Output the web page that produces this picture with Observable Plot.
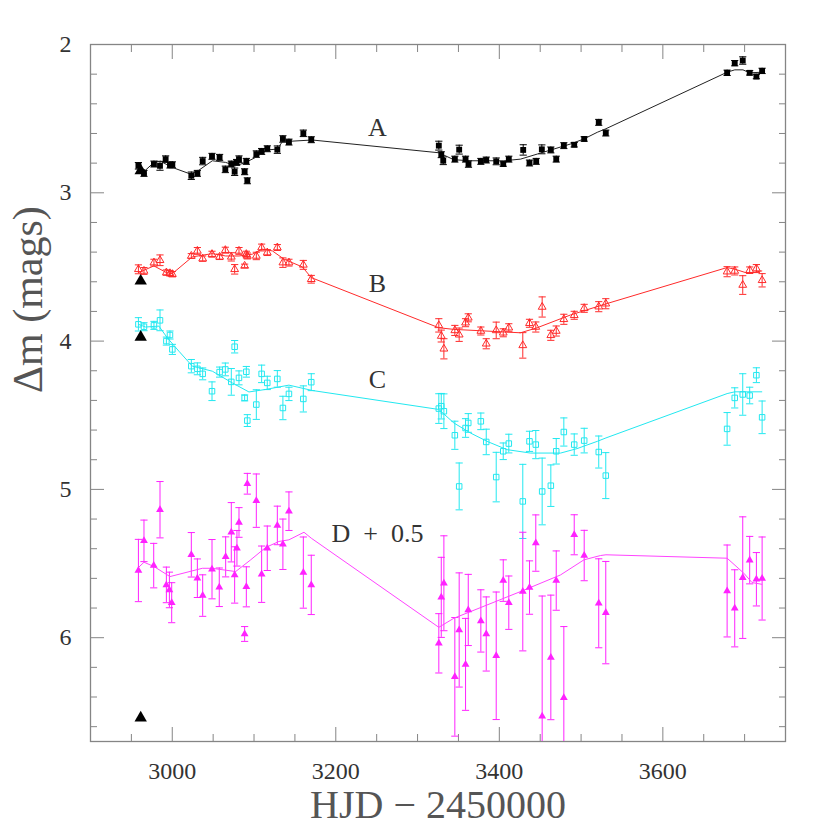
<!DOCTYPE html>
<html><head><meta charset="utf-8">
<script src="https://cdn.jsdelivr.net/npm/d3@7"></script>
<script src="https://cdn.jsdelivr.net/npm/@observablehq/plot@0.6"></script>
<style>
body{margin:0;background:#fff}
svg text{white-space:pre; font-family:'Liberation Serif','DejaVu Serif',serif !important}
</style>
</head><body><div id="chart"></div>
<script>
// ---- axis ticks ----
const xMajor = [3000, 3200, 3400, 3600];
const xMinor = [2950, 3050, 3100, 3150, 3250, 3300, 3350, 3450, 3500, 3550, 3650, 3700];
const yMajor = [2, 3, 4, 5, 6];
const yMinor = [2.2,2.4,2.6,2.8,3.2,3.4,3.6,3.8,4.2,4.4,4.6,4.8,5.2,5.4,5.6,5.8,6.2,6.4,6.6];

// ---- series A ----
const aX = [2958.6,2965.4,2977.6,2985.0,2991.9,2997.2,3000.1,3023.3,3030.7,3037.2,3048.6,3057.9,3064.9,3072.2,3076.3,3078.7,3081.6,3088.5,3090.6,3091.8,3102.8,3109.3,3116.2,3128.5,3135.3,3142.7,3160.3,3170.0,
  3326.0,3329.0,3331.4,3345.6,3350.9,3358.7,3362.3,3377.4,3384.0,3396.2,3404.8,3411.6,3429.2,3436.9,3445.1,3452.0,3463.0,3469.6,3478.9,3491.6,3503.8,3521.6,3530.2,
  3678.6,3687.9,3697.7,3706.2,3714.4,3721.4];
const aY = [2.818,2.869,2.806,2.818,2.773,2.813,2.811,2.885,2.869,2.786,2.754,2.761,2.842,2.806,2.858,2.795,2.773,2.858,2.788,2.919,2.739,2.721,2.703,2.709,2.637,2.658,2.599,2.642,
  2.682,2.743,2.784,2.773,2.709,2.773,2.806,2.788,2.779,2.788,2.806,2.773,2.711,2.799,2.788,2.707,2.711,2.773,2.682,2.676,2.637,2.525,2.597,
  2.191,2.126,2.108,2.191,2.216,2.178];
const aE = [0.022,0.02,0.02,0.03,0.022,0.02,0.02,0.025,0.02,0.025,0.02,0.02,0.022,0.02,0.025,0.02,0.022,0.02,0.02,0.02,0.022,0.02,0.02,0.025,0.022,0.02,0.022,0.02,
  0.03,0.02,0.026,0.02,0.03,0.02,0.022,0.02,0.02,0.023,0.015,0.02,0.035,0.02,0.02,0.03,0.02,0.02,0.02,0.015,0.015,0.02,0.02,
  0.018,0.018,0.025,0.015,0.015,0.018];

// ---- series B ----
const bX = [2958.6,2965.4,2977.6,2985.0,2992.8,2997.2,3000.1,3023.3,3030.7,3037.2,3048.6,3057.9,3064.9,3072.2,3076.3,3081.6,3088.5,3090.6,3091.8,3102.8,3109.3,3116.2,3128.5,3135.3,3142.7,3160.3,3170.0,
  3326.0,3329.0,3332.2,3345.6,3350.9,3358.7,3362.0,3377.4,3384.0,3396.2,3404.8,3411.6,3428.7,3436.9,3444.6,3452.4,3463.0,3469.6,3478.9,3491.6,3503.8,3521.6,3530.2,
  3678.6,3687.9,3697.7,3706.2,3714.4,3721.4];
const bY = [3.516,3.527,3.471,3.455,3.538,3.543,3.549,3.426,3.392,3.444,3.414,3.432,3.387,3.432,3.516,3.392,3.493,3.414,3.426,3.426,3.369,3.403,3.369,3.471,3.471,3.486,3.583,
  3.894,3.966,4.052,3.928,3.957,3.876,3.843,3.932,4.018,3.928,3.944,3.910,4.029,3.880,3.905,3.770,3.961,3.932,3.853,3.826,3.779,3.768,3.748,
  3.532,3.527,3.622,3.522,3.511,3.590];
const bE = [0.03,0.023,0.023,0.036,0.018,0.018,0.018,0.016,0.023,0.018,0.02,0.018,0.02,0.028,0.032,0.023,0.012,0.02,0.02,0.025,0.023,0.02,0.02,0.032,0.023,0.03,0.026,
  0.045,0.04,0.068,0.034,0.045,0.027,0.027,0.027,0.034,0.056,0.027,0.027,0.086,0.027,0.034,0.068,0.034,0.034,0.034,0.027,0.027,0.034,0.034,
  0.034,0.027,0.063,0.022,0.027,0.045];

// ---- series C ----
const cX = bX;
const cY = [3.887,3.903,3.894,3.860,4.000,3.959,4.056,4.169,4.187,4.221,4.338,4.209,4.191,4.275,4.038,4.248,4.383,4.207,4.536,4.428,4.221,4.282,4.255,4.451,4.356,4.390,4.277,
  4.455,4.439,4.473,4.635,4.980,4.586,4.552,4.541,4.680,4.917,4.743,4.691,5.081,4.676,4.698,5.014,4.975,4.743,4.613,4.698,4.671,4.748,4.907,
  4.592,4.383,4.360,4.367,4.230,4.514];
const cE = [0.045,0.027,0.027,0.07,0.027,0.027,0.034,0.045,0.04,0.04,0.063,0.034,0.043,0.09,0.042,0.047,0.02,0.036,0.04,0.1,0.059,0.045,0.056,0.079,0.045,0.088,0.057,
  0.10,0.086,0.117,0.095,0.158,0.063,0.063,0.056,0.086,0.167,0.056,0.063,0.25,0.068,0.095,0.225,0.14,0.086,0.095,0.072,0.083,0.108,0.155,
  0.11,0.068,0.14,0.056,0.05,0.11];

// ---- series D (+0.5) ----
const dX = [2958.6,2965.4,2977.3,2985.0,2992.8,2996.5,2999.3,3023.3,3030.7,3037.2,3048.6,3057.5,3065.3,3072.2,3076.3,3079.1,3081.6,3088.5,3090.6,3091.8,3102.8,3109.3,3116.2,3128.5,3135.3,3142.7,3160.3,3170.0,
  3326.0,3329.0,3332.2,3345.6,3350.9,3358.7,3362.0,3377.4,3384.0,3396.2,3404.8,3411.6,3428.7,3436.9,3444.6,3452.4,3463.0,3469.6,3478.9,3491.6,3503.8,3521.6,3530.2,
  3678.6,3687.9,3697.7,3706.2,3714.4,3721.4];
const dY = [5.547,5.347,5.514,5.137,5.644,5.678,5.764,5.441,5.599,5.716,5.538,5.660,5.455,5.289,5.577,5.397,5.223,5.975,5.657,4.962,5.076,5.572,5.397,5.243,5.370,5.147,5.561,5.644,
  6.038,5.728,5.633,6.264,5.948,6.180,5.813,5.887,5.975,6.122,5.615,5.764,5.689,5.662,5.362,6.529,6.133,5.615,6.405,5.306,5.446,5.768,5.831,
  5.685,5.802,5.595,5.477,5.606,5.601];
const dE = [0.21,0.14,0.15,0.19,0.12,0.12,0.135,0.15,0.13,0.14,0.20,0.13,0.135,0.20,0.19,0.12,0.10,0.05,0.135,0.07,0.18,0.19,0.15,0.13,0.17,0.13,0.24,0.20,
  0.20,0.27,0.32,0.40,0.385,0.31,0.24,0.21,0.25,0.43,0.14,0.18,0.40,0.18,0.19,0.81,0.42,0.20,0.48,0.135,0.17,0.30,0.345,
  0.31,0.26,0.41,0.16,0.18,0.28];

// ---- model curves ----
const lineAX = [2958.6,2967.4,2977.6,2985.8,3000.1,3022.5,3032.7,3049,3065.3,3077.5,3089.8,3102,3116.2,3128.5,3135.4,3142.7,3171.2,3326,3344.4,3364.8,3405.6,3425.9,3446.3,3466.7,3487,3503.5,3519.8,3530.4,3678.6,3688,3698,3706,3721];
const lineAY = [2.829,2.847,2.795,2.788,2.829,2.874,2.847,2.784,2.795,2.818,2.795,2.761,2.711,2.705,2.649,2.653,2.644,2.73,2.777,2.784,2.784,2.773,2.739,2.705,2.671,2.637,2.592,2.568,2.187,2.171,2.171,2.191,2.187];
const lineBX = [2958.6,2965.4,2977.6,2992.8,3000.1,3024.5,3049,3065.3,3081.6,3098,3110,3122.5,3136.8,3159.2,3170,3326,3344.4,3425.9,3446.3,3487,3530.4,3678.6,3688,3704,3721];
const lineBY = [3.538,3.522,3.493,3.538,3.545,3.432,3.410,3.426,3.426,3.414,3.380,3.392,3.448,3.500,3.572,3.91,3.921,3.944,3.91,3.824,3.749,3.504,3.515,3.543,3.527];
const lineCX = [2958.6,2967.4,2983.7,2993.8,3008.1,3024.5,3049,3073.4,3093.8,3114.2,3142.7,3171.2,3326,3344.4,3364.8,3385,3409.5,3438,3475,3495,3519.8,3530.4,3678.6,3688,3721];
const lineCY = [3.887,3.905,3.899,3.977,4.068,4.169,4.203,4.282,4.343,4.326,4.297,4.333,4.461,4.552,4.62,4.676,4.732,4.755,4.755,4.725,4.676,4.653,4.354,4.342,4.342];
const lineDX = [2958.6,2965.4,2977.6,2997.2,3036.8,3048.6,3077.5,3095.9,3114.2,3130.5,3142.7,3161.1,3170,3326,3344.4,3425.9,3474.8,3503.5,3523.7,3530.4,3678.6,3699,3709,3721];
const lineDY = [5.527,5.491,5.520,5.588,5.532,5.532,5.554,5.475,5.392,5.351,5.340,5.289,5.329,5.93,5.869,5.689,5.577,5.475,5.446,5.441,5.464,5.565,5.628,5.640];

// ---- reference markers & labels ----
const refX = [2961.4, 2961.4, 2961.4, 2961.4];
const refY = [2.851, 3.595, 3.973, 6.541];
const labelText = ["A", "B", "C", "D  +  0.5"];
const labelX = [3251, 3251, 3251, 3251];
const labelY = [2.56, 3.615, 4.257, 5.30];

const font = "'Liberation Serif', 'DejaVu Serif', serif";
const frameGray = "#858585";

const cap = {draw(ctx, size) { const w = Math.sqrt(size / Math.PI); ctx.moveTo(-w, 0); ctx.lineTo(w, 0); }};

function rows(xs, ys, es) { return xs.map((x, i) => ({x, y: ys[i], e: es ? es[i] : 0})); }

const series = [
  {data: rows(aX, aY, aE), line: rows(lineAX, lineAY), color: "#000000", lineColor: "#222", symbol: "square", filled: true, r: 3.3},
  {data: rows(bX, bY, bE), line: rows(lineBX, lineBY), color: "#ff2a2a", lineColor: "#ff2a2a", symbol: "triangle", filled: false, r: 2.9},
  {data: rows(cX, cY, cE), line: rows(lineCX, lineCY), color: "#22e8f0", lineColor: "#22e8f0", symbol: "square", filled: false, r: 3.1},
  {data: rows(dX, dY, dE), line: rows(lineDX, lineDY), color: "#ff22ff", lineColor: "#ff44ff", symbol: "triangle", filled: true, r: 2.9}
];

const marks = [];
for (const s of series) {
  marks.push(Plot.ruleX(s.data, {x: "x", y1: d => d.y - d.e, y2: d => d.y + d.e, stroke: s.color, strokeWidth: 1, clip: true}));
  marks.push(Plot.dot(s.data, {x: "x", y: d => d.y - d.e, symbol: cap, r: 3.6, stroke: s.color, fill: "none", strokeWidth: 1, clip: true}));
  marks.push(Plot.dot(s.data, {x: "x", y: d => d.y + d.e, symbol: cap, r: 3.6, stroke: s.color, fill: "none", strokeWidth: 1, clip: true}));
}
for (const s of series) {
  marks.push(Plot.line(s.line, {x: "x", y: "y", stroke: s.lineColor, strokeWidth: 1}));
}
for (const s of series) {
  marks.push(Plot.dot(s.data, s.filled
    ? {x: "x", y: "y", symbol: s.symbol, r: s.r, fill: s.color, stroke: "none"}
    : {x: "x", y: "y", symbol: s.symbol, r: s.r, fill: "none", stroke: s.color, strokeWidth: 1}));
}
marks.push(Plot.dot(rows(refX, refY), {x: "x", y: "y", symbol: "triangle", r: 4.6, fill: "#000", stroke: "none"}));
marks.push(Plot.text(labelText, {x: (d, i) => labelX[i], y: (d, i) => labelY[i], text: d => d, fontSize: 26, fill: "#333", fontFamily: font}));

const chart = Plot.plot({
  width: 830, height: 830,
  marginLeft: 90, marginRight: 45, marginTop: 44, marginBottom: 89,
  style: {fontFamily: font, background: "#fff", color: "#333"},
  x: {domain: [2900, 3750]},
  y: {domain: [2, 6.7], reverse: true},
  marks: [
    Plot.axisX({anchor: "bottom", ticks: xMajor, tickSize: -14, tickPadding: 34, tickFormat: d => String(d), fontSize: 24, fontFamily: font, fill: "#333", stroke: frameGray, label: null}),
    Plot.axisX({anchor: "bottom", ticks: xMinor, tickSize: -7, fill: "none", stroke: frameGray, label: null}),
    Plot.axisX({anchor: "top", ticks: xMajor, tickSize: -14, fill: "none", stroke: frameGray, label: null}),
    Plot.axisX({anchor: "top", ticks: xMinor, tickSize: -7, fill: "none", stroke: frameGray, label: null}),
    Plot.axisY({anchor: "left", ticks: yMajor, tickSize: -14, tickPadding: 33, tickFormat: d => String(d), fontSize: 24, fontFamily: font, fill: "#333", stroke: frameGray, label: null}),
    Plot.axisY({anchor: "left", ticks: yMinor, tickSize: -7, fill: "none", stroke: frameGray, label: null}),
    Plot.axisY({anchor: "right", ticks: yMajor, tickSize: -14, fill: "none", stroke: frameGray, label: null}),
    Plot.axisY({anchor: "right", ticks: yMinor, tickSize: -7, fill: "none", stroke: frameGray, label: null}),
    Plot.frame({stroke: frameGray, strokeWidth: 1.3}),
    ...marks,
    Plot.text(["HJD − 2450000"], {frameAnchor: "bottom", lineAnchor: "middle", dy: 64, fontSize: 40, fill: "#555", fontFamily: font}),
    Plot.text(["Δm (mags)"], {frameAnchor: "left", lineAnchor: "middle", dx: -62, rotate: -90, fontSize: 42, fill: "#555", fontFamily: font, letterSpacing: 2})
  ]
});
d3.select(chart).selectAll("g, text").attr("font-family", font).style("font-family", font);
document.getElementById("chart").appendChild(chart);
</script>
</body></html>
